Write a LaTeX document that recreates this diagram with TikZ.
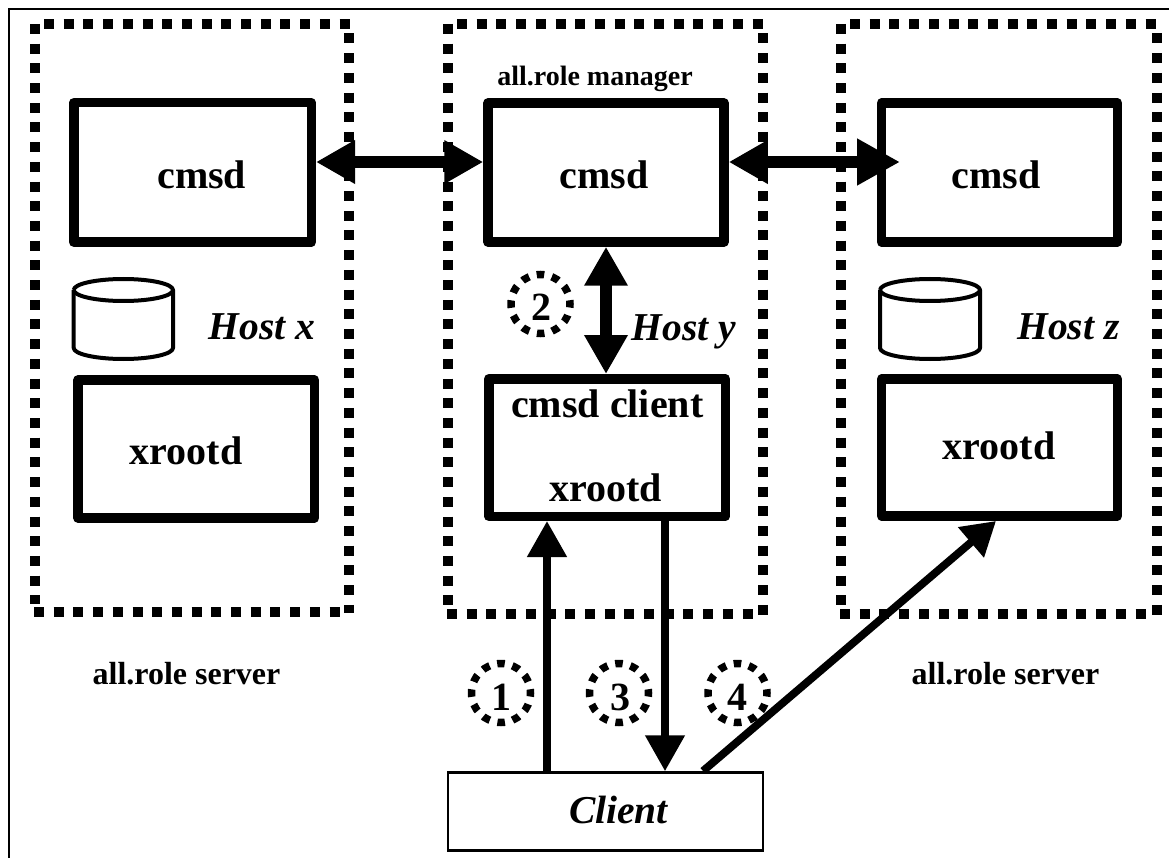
\documentclass[tikz,border=0pt]{standalone}
\usepackage{fontspec}
\setmainfont{Liberation Serif}
\usetikzlibrary{arrows.meta,shapes.geometric}
\tikzset{
  x=1pt,y=-1pt,
  frameline/.style={line width=2.6pt,line join=miter},
  dotline/.style={line width=10pt,dash pattern=on 10pt off 9.7pt},
  hostbox/.style={draw,line width=9.5pt,line join=round,fill=white,inner sep=0pt},
  clientbox/.style={draw,line width=2.5pt,fill=white,inner sep=0pt},
  boldtext/.style={font=\bfseries\fontsize{40}{40}\selectfont,anchor=base,inner sep=0pt},
  roletext/.style={font=\bfseries\fontsize{28}{28}\selectfont,anchor=base,inner sep=0pt},
  servertext/.style={font=\bfseries\fontsize{32}{32}\selectfont,anchor=base,inner sep=0pt},
  hosttext/.style={font=\bfseries\itshape\fontsize{39.5}{39.5}\selectfont,anchor=base,inner sep=0pt},
  numcircle/.style={circle,draw,line width=7.5pt,dash pattern=on 7.5pt off 7.95pt,dash phase=3.75pt,minimum size=59pt,inner sep=0pt},
  numtext/.style={font=\bfseries\fontsize{40}{40}\selectfont,anchor=base,inner sep=0pt},
  bigdouble/.style={line width=11.7pt,{Triangle[length=39pt,width=41pt]}-{Triangle[length=39pt,width=41pt]}},
  wideright/.style={line width=11.7pt,{Triangle[length=39pt,width=41pt]}-{Triangle[length=43pt,width=44pt]}},
  thinarrow/.style={line width=7.8pt,-{Triangle[length=36pt,width=38pt]}},
  slantarrow/.style={line width=7.8pt,-{Triangle[length=33pt,width=38pt]}},
  cyl/.style={line width=4pt,fill=white,line join=round},
}
\newcommand{\dotbox}[4]{%
  \draw[dotline] (#1,#2) -- (#1,#4-8);
  \draw[dotline] (#1+9,#2) -- (#3+1,#2);
  \draw[dotline] (#3,#2+9.5) -- (#3,#4+1);
  \draw[dotline] (#1-1,#4) -- (#3-9,#4);
}
\newcommand{\diskcyl}[4]{%
  \draw[cyl] (#1,#2+11) -- (#1,#4-11) arc[start angle=180,end angle=0,x radius={(#3-#1)/2},y radius=11] -- (#3,#2+11);
  \draw[cyl] (#1,#2+11) arc[start angle=180,end angle=540,x radius={(#3-#1)/2},y radius=11];
}
\begin{document}
\begin{tikzpicture}
\useasboundingbox (0,0) rectangle (1169,858);
\draw[frameline] (9,858) -- (9,9) -- (1169,9);
\dotbox{35}{24}{349}{612}
\dotbox{448}{24}{763}{614}
\dotbox{841}{24}{1157}{614}
\node[hostbox,minimum width=237.5pt,minimum height=139.5pt] (cmsdx) at (192.5,172.5) {};
\node[hostbox,minimum width=236pt,minimum height=139pt] (cmsdy) at (606,172.5) {};
\node[hostbox,minimum width=236pt,minimum height=139pt] (cmsdz) at (999.5,172.5) {};
\node[hostbox,minimum width=236.5pt,minimum height=138pt] (xrdx) at (196.3,449) {};
\node[hostbox,minimum width=236.5pt,minimum height=137.5pt] (xrdy) at (607,447.5) {};
\node[hostbox,minimum width=235.6pt,minimum height=137pt] (xrdz) at (999.5,447.5) {};
\node[clientbox,minimum width=315pt,minimum height=78pt] (client) at (605.5,811.5) {};
\diskcyl{73.7}{279}{173}{359}
\diskcyl{880}{279}{980}{359}
\node[boldtext] (t1) at (201.7,189) {cmsd};
\node[boldtext] (t2) at (604,189) {cmsd};
\node[boldtext] (t3) at (996,189) {cmsd};
\node[boldtext] (t4) at (186,464) {xrootd};
\node[boldtext] (t5) at (607.3,417) {cmsd client};
\node[boldtext] (t6) at (605.7,501.7) {xrootd};
\node[boldtext] (t7) at (999,459) {xrootd};
\node[roletext] (t8) at (595,86) {all.role manager};
\node[servertext] (t9) at (186.5,684) {all.role server};
\node[servertext] (t10) at (1005.5,684) {all.role server};
\node[hosttext] (h1) at (262,339) {Host x};
\node[hosttext] (h2) at (684,340) {Host y};
\node[hosttext] (h3) at (1068.5,339) {Host z};
\node[hosttext] (h4) at (618.5,823) {Client};
\node[numcircle] (c2) at (540.5,304) {};
\node[numcircle] (c1) at (501,693) {};
\node[numcircle] (c3) at (619,693) {};
\node[numcircle] (c4) at (737.5,693) {};
\node[numtext] (n2) at (541,321) {2};
\node[numtext] (n1) at (501.7,710) {1};
\node[numtext] (n3) at (620,710) {3};
\node[numtext] (n4) at (737,710) {4};
\coordinate (zt) at (900,162);
\coordinate (ym) at (0,162);
\draw[bigdouble] (cmsdx.east |- ym) -- (cmsdy.west |- ym);
\draw[wideright] (cmsdy.east |- zt) -- (zt);
\draw[bigdouble] (cmsdy.south) -- (cmsdy.south |- xrdy.north);
\coordinate (u1) at (547,0);
\coordinate (u3) at (665,0);
\draw[thinarrow] (client.north -| u1) -- (xrdy.south -| u1);
\draw[thinarrow] (xrdy.south -| u3) -- (client.north -| u3);
\coordinate (u4a) at (703,771);
\coordinate (u4b) at (996,521);
\draw[slantarrow] (u4a) -- (u4b);
\end{tikzpicture}
\end{document}
